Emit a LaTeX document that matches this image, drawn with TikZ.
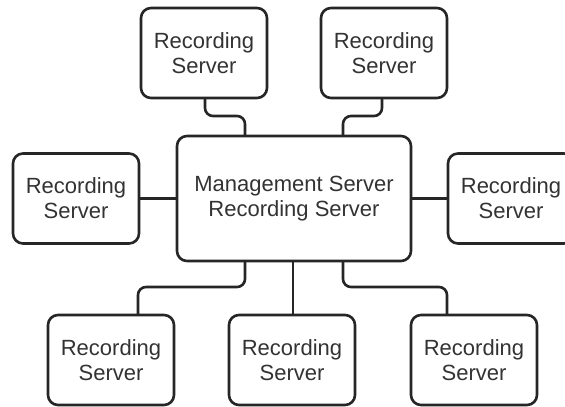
\documentclass[tikz,border=0pt]{standalone}
\usepackage{fontspec}
\setmainfont{Liberation Sans}
\usetikzlibrary{calc}
\definecolor{linec}{HTML}{262626}
\definecolor{textc}{HTML}{333333}
\tikzset{
  box/.style={draw=linec, line width=2.6pt, rounded corners=10pt, fill=white,
    minimum width=126pt, minimum height=90pt, align=center, inner sep=0pt,
    text=textc, font=\fontsize{22}{25}\selectfont},
  hub/.style={box, minimum width=234pt, minimum height=125pt},
  conn/.style={draw=linec, line width=2.6pt, rounded corners=8pt}
}
\begin{document}
\begin{tikzpicture}[x=1pt, y=-1pt]
\useasboundingbox (0,0) rectangle (565,407);
\clip (0,0) rectangle (565,407);
% connectors first (drawn beneath boxes)
\coordinate (ct1) at (245,135);
\coordinate (ct2) at (343,135);
\coordinate (cb1) at (245,262);
\coordinate (cb2) at (293,262);
\coordinate (cb3) at (343,262);
\coordinate (bl1) at (138,315);
\coordinate (br1) at (447,315);
\coordinate (tl1) at (205,99);
\coordinate (tr1) at (382,99);
\coordinate (mt) at (0,116);
\coordinate (mb) at (0,287);

\node[hub] (hub) at (294,198.5) {Management Server\\Recording Server};
\node[box] (tl) at (204,53) {Recording\\Server};
\node[box] (tr) at (384,53) {Recording\\Server};
\node[box] (l) at (76,198.5) {Recording\\Server};
\node[box] (r) at (511,198.5) {Recording\\Server};
\node[box] (bl) at (111,360) {Recording\\Server};
\node[box] (bm) at (292,360) {Recording\\Server};
\node[box] (br) at (474,360) {Recording\\Server};

\draw[conn] (tl1) -- (tl1 |- mt) -| (ct1);
\draw[conn] (tr1) -- (tr1 |- mt) -| (ct2);
\draw[conn] (l.east) -- (hub.west |- l.east);
\draw[conn] (r.west) -- (hub.east |- r.west);
\draw[conn] (cb1) -- (cb1 |- mb) -| (bl1);
\draw[conn] (cb2) -- (cb2 |- bm.north);
\draw[conn] (cb3) -- (cb3 |- mb) -| (br1);
\end{tikzpicture}
\end{document}
